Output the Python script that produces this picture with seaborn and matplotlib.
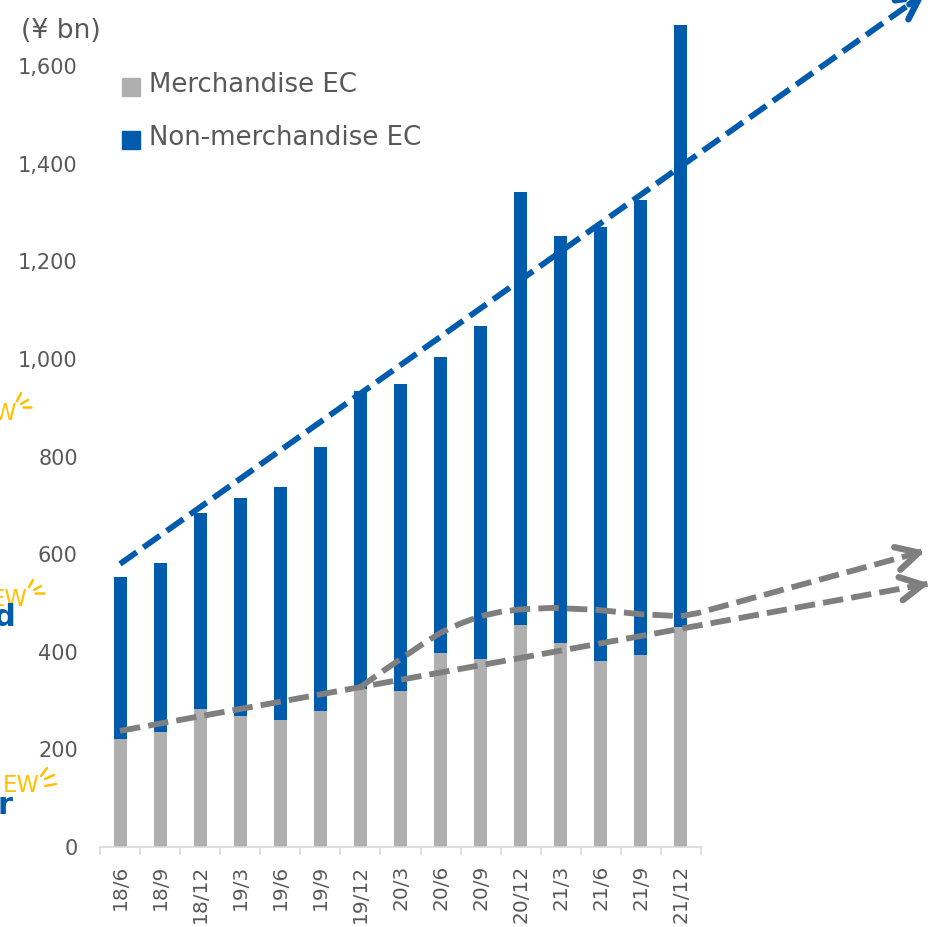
import matplotlib
matplotlib.use("Agg")
import matplotlib.pyplot as plt
import pandas as pd
import seaborn as sns

periods = ["18/6","18/9","18/12","19/3","19/6","19/9","19/12","20/3","20/6","20/9","20/12","21/3","21/6","21/9","21/12"]
merch = [221,236,283,268,260,279,324,320,397,385,455,418,381,393,451]
total = [553,582,685,715,738,819,935,948,1005,1067,1343,1253,1271,1325,1684]
non_merch = [t - m for t, m in zip(total, merch)]

# hand-drawn trend overlays: (category position, value)
blue_trend_x = [0, 20.1]
blue_trend_y = [580, 1750]
grey_line_x = [0, 20.2]
grey_line_y = [238, 540]
grey_curve_x = [5.97, 6.5, 7.0, 7.5, 8.0, 8.5, 9.0, 9.5, 10.0, 10.8, 11.9, 13.0, 14.0, 14.4, 20.1]
grey_curve_y = [326, 357, 385, 413, 439, 458, 473, 482, 487, 490, 486, 477, 473, 479, 607]

BLUE = "#005BAC"
GREY = "#AFAFAF"
TXT = "#595959"
ARROW = "#7F7F7F"

sns.set_theme(style="white")
plt.rcParams["font.family"] = ["DejaVu Sans"]

W, H = 931, 927
fig = plt.figure(figsize=(W / 100, H / 100), dpi=100)
ax = fig.add_axes([100 / W, (H - 847) / H, 601 / W, 847 / H])

df = pd.DataFrame({"period": periods, "merch": merch, "non": non_merch})
sns.barplot(df, x="period", y="merch", color=GREY, saturation=1, width=0.325, linewidth=0, ax=ax)
sns.barplot(df, x="period", y="non", bottom=df["merch"], color=BLUE, saturation=1, width=0.325, linewidth=0, ax=ax)

ax.set_xlim(-0.5, 14.5)
ax.set_ylim(0, 847 / 0.488)
ax.set_xlabel("")
ax.set_ylabel("")
for s in ["top", "right", "left"]:
    ax.spines[s].set_visible(False)
ax.spines["bottom"].set_color("#D9D9D9")
ax.spines["bottom"].set_linewidth(1.2)
ax.set_yticks(range(0, 1601, 200))
ax.set_yticklabels([f"{v:,}" for v in range(0, 1601, 200)], fontsize=15, color=TXT)
ax.tick_params(axis="y", length=0, pad=16)
ax.set_xticks(range(15))
ax.set_xticklabels(periods, rotation=90, fontsize=14.5, color=TXT)
ax.set_xticks([i - 0.5 for i in range(16)], minor=True)
ax.tick_params(axis="x", which="major", length=0, pad=13)
ax.tick_params(axis="x", which="minor", length=6, width=1.2, color="#D9D9D9", bottom=True)

def trend(xs, ys, color):
    ax.plot(xs, ys, color=color, lw=4.2, dashes=(3.5, 1.4), dash_capstyle="butt",
            clip_on=False, zorder=5)
    slope = (ys[-1] - ys[-2]) / (xs[-1] - xs[-2])
    ax.annotate("", xy=(xs[-1], ys[-1]), xytext=(xs[-1] - 0.4, ys[-1] - slope * 0.4),
                annotation_clip=False, zorder=6,
                arrowprops=dict(arrowstyle="->,head_length=0.8,head_width=0.42", color=color, lw=4.6,
                                mutation_scale=20, shrinkA=0, shrinkB=0,
                                capstyle="round", joinstyle="round"))

trend(blue_trend_x, blue_trend_y, BLUE)
trend(grey_line_x, grey_line_y, ARROW)
trend(grey_curve_x, grey_curve_y, ARROW)

handles = [plt.Rectangle((0, 0), 1, 1, color=GREY), plt.Rectangle((0, 0), 1, 1, color=BLUE)]
leg = ax.legend(handles, ["Merchandise EC", "Non-merchandise EC"], frameon=False, fontsize=18.7,
                labelcolor=TXT, loc="upper left", bbox_to_anchor=(122 / W, 1 - 72 / H),
                bbox_transform=fig.transFigure, borderpad=0, borderaxespad=0, handlelength=0.7,
                handleheight=0.7, handletextpad=0.35, labelspacing=1.05)
for p in leg.get_patches():
    p.set_y(p.get_y() - 3)

def px(x, y):
    return x / W, 1 - y / H

fig.text(*px(21, 31), "(¥ bn)", fontsize=19.2, color=TXT, va="center", ha="left")

YEL = "#FFC000"
for xr, yc, s in [(16, 413, "W"), (28, 600, "EW"), (40, 786, "EW")]:
    fig.text(*px(xr, yc), s, fontsize=16.4, color=YEL, va="center", ha="right")
for xr, yc, s in [(15, 617, "d"), (12, 806, "r")]:
    fig.text(*px(xr, yc), s, fontsize=22, color=BLUE, va="center", ha="right", fontweight="bold")

rays = [
    [(17, 401), (21, 393)], [(21, 404), (28, 400)], [(23, 407), (31, 407)],
    [(29, 587), (33, 580)], [(34, 590), (41, 586)], [(35, 593), (44, 593)],
    [(41, 776), (47, 768)], [(45, 779), (54, 775)], [(45, 786), (56, 784)],
]
for a, b in rays:
    fig.add_artist(plt.Line2D([px(*a)[0], px(*b)[0]], [px(*a)[1], px(*b)[1]], color=YEL, lw=1.8,
                              transform=fig.transFigure))

fig.savefig("out.png", dpi=100)
